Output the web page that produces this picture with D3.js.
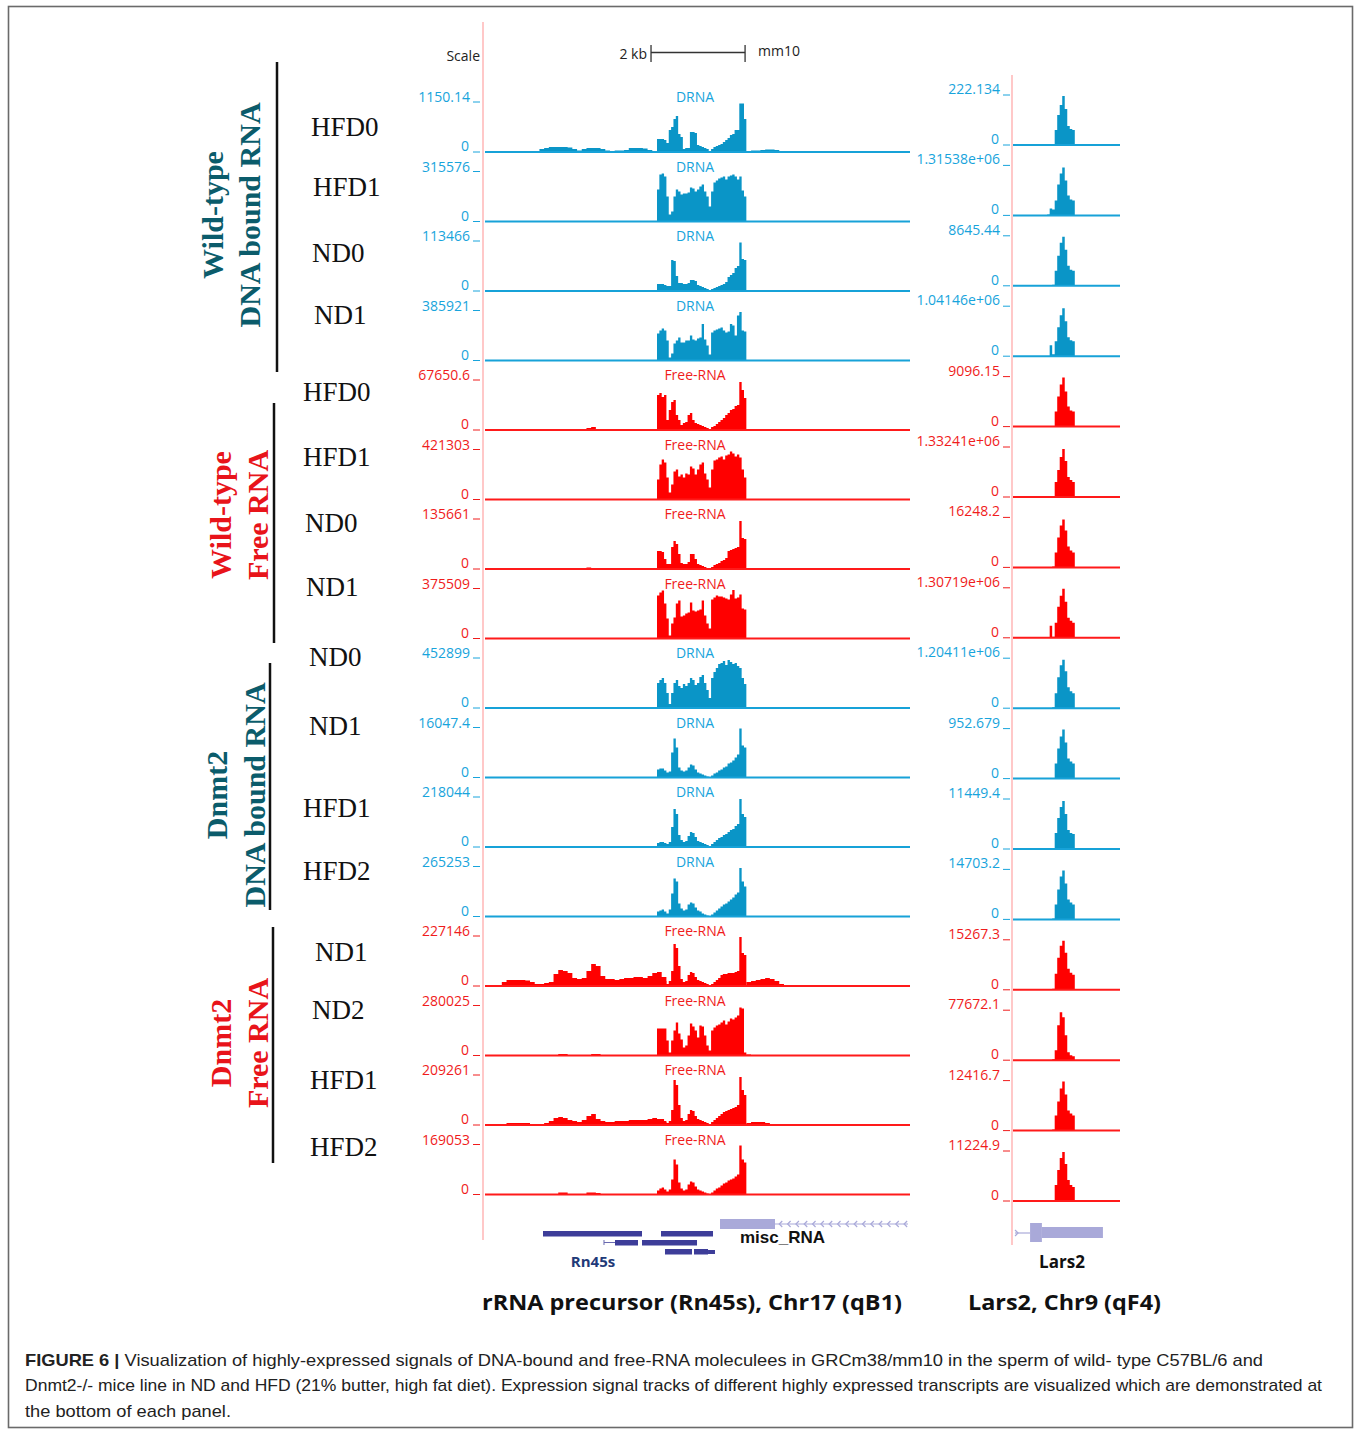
<!DOCTYPE html>
<html>
<head>
<meta charset="utf-8">
<script src="https://cdn.jsdelivr.net/npm/d3@7"></script>
<style>
body { margin: 0; background: #fff; }
</style>
</head>
<body>
<svg id="fig" width="1356" height="1430"></svg>
<script>
// ---- track data (heights as % of each track's own max) ----
var kinds = ["D","D","D","D","F","F","F","F","D","D","D","D","F","F","F","F"];
var samples = ["HFD0","HFD1","ND0","ND1","HFD0","HFD1","ND0","ND1","ND0","ND1","HFD1","HFD2","ND1","ND2","HFD1","HFD2"];
var sampleX = [311,313,312,314,303,303,305,306,309,309,303,303,315,312,310,310];
var sampleY = [127,187,253,315,392,457,523,587,657,726,808,871,952,1010,1080,1147];
var leftMax = ["1150.14","315576","113466","385921","67650.6","421303","135661","375509","452899","16047.4","218044","265253","227146","280025","209261","169053"];
var rightMax = ["222.134","1.31538e+06","8645.44","1.04146e+06","9096.15","1.33241e+06","16248.2","1.30719e+06","1.20411e+06","952.679","11449.4","14703.2","15267.3","77672.1","12416.7","11224.9"];

// Rn45s locus, 50 bp bins starting at 3700 bp
var core = [
  [26,26,26,24,18,44,50,66,72,36,30,6,8,8,40,40,38,14,12,10,8,6,2,6,10,12,14,16,20,24,28,34,36,44,44,97,97,66],
  [64,94,96,90,50,14,20,50,64,60,54,56,56,58,68,66,60,64,70,74,60,50,30,60,78,82,86,88,90,84,90,92,94,90,84,90,62,50],
  [14,14,14,12,10,10,62,60,30,16,16,14,14,16,22,22,20,12,10,8,6,4,1,4,6,8,10,12,14,18,28,32,36,46,50,97,64,62],
  [54,60,64,60,40,6,14,34,40,46,36,36,40,40,50,42,40,44,46,73,42,30,12,56,60,62,64,66,60,56,58,73,70,50,90,97,60,58],
  [70,74,66,70,20,40,56,60,30,20,10,14,16,30,34,20,14,12,10,8,6,4,2,6,8,12,16,20,24,30,34,40,42,48,50,96,80,64],
  [40,70,80,74,44,14,30,56,60,46,50,44,52,50,66,62,50,60,70,74,52,40,24,60,78,80,84,86,80,88,90,96,92,86,90,84,60,44],
  [36,36,34,20,10,10,44,56,50,30,12,10,10,14,30,30,20,10,8,6,4,2,0,4,8,10,12,16,18,22,36,38,40,42,44,96,62,60],
  [86,92,96,70,40,6,30,42,70,76,44,46,50,52,72,56,54,56,58,76,46,30,20,78,82,86,84,84,82,80,78,88,97,80,82,88,60,58],
  [50,56,60,50,30,8,30,50,56,44,40,48,44,50,60,56,46,50,62,66,50,36,20,60,72,80,88,90,94,86,96,92,88,90,84,80,60,48],
  [16,18,18,14,10,12,50,78,60,20,14,12,14,20,26,24,16,10,8,6,4,2,1,4,8,10,14,16,20,22,28,30,34,40,46,98,64,60],
  [8,10,10,8,6,10,40,76,66,24,14,10,12,22,30,28,20,12,10,8,6,4,2,6,10,14,18,20,24,26,30,34,36,42,46,96,66,60],
  [10,12,14,10,6,14,46,76,70,26,16,12,14,24,28,26,18,12,10,6,4,2,1,4,8,12,16,20,24,26,30,34,38,44,48,97,70,60],
  [10,12,12,10,4,10,30,84,76,40,14,8,10,22,28,26,18,12,10,8,6,4,2,4,8,12,16,22,24,24,26,26,26,28,30,98,66,62],
  [54,54,54,54,30,6,30,50,66,44,32,16,20,40,64,58,50,36,60,58,40,20,10,50,56,60,62,66,70,62,68,74,72,76,80,96,94,6],
  [10,12,12,8,4,8,30,90,80,40,14,8,10,22,30,28,18,12,10,8,6,4,2,6,10,14,18,22,26,28,30,32,34,36,40,96,70,60],
  [8,12,14,10,6,10,30,70,60,24,12,8,10,20,26,24,16,10,8,6,4,2,1,4,8,12,14,18,22,24,28,30,32,36,40,98,70,64]
];
// low background across the locus, 100 bp bins from 0 bp (core drawn over it)
var flank = [
  [0,0,0,0,1,2,0,0,0,1,1,2,6,8,10,10,10,10,9,6,3,6,8,8,8,6,3,2,3,3,4,8,8,8,7,4,2,3,3,3,3,0,0,0,0,0,0,0,0,0,0,0,0,0,0,0,0,3,3,4,5,5,4,2],
  [],
  [],
  [],
  [0,0,0,0,0,0,0,0,0,0,0,0,0,0,0,0,0,0,0,0,0,0,4,6,2],
  [],
  [0,0,0,0,0,0,0,0,0,0,0,0,0,0,0,0,0,0,0,0,0,2,3],
  [],
  [],
  [],
  [],
  [],
  [0,0,0,2,8,12,12,12,12,11,8,4,4,6,8,24,32,30,26,16,14,16,30,44,40,20,14,14,12,14,16,16,18,18,16,20,26,28,18,4,0,0,0,0,0,0,0,0,0,0,0,0,0,0,0,0,8,10,12,14,16,14,10,4],
  [0,0,0,0,0,0,0,0,0,0,0,0,0,0,0,0,3,3,0,0,0,0,0,3,3,0,0,0,0,0,0,0,0,0,0,0,0,0,0,0,0,0,0,0,0,0,0,0,0,0,0,0,0,0,0,0,2],
  [0,0,0,0,2,4,4,4,4,4,2,2,2,4,8,14,16,14,10,8,6,10,18,22,12,8,6,6,8,8,8,10,10,10,10,12,14,12,6,2,0,0,0,0,0,0,0,0,0,0,0,0,0,0,0,0,4,6,6,6,4,2],
  [0,0,0,0,0,0,0,0,0,0,0,0,0,0,0,0,4,4,0,0,0,0,4,4,3]
];
// Lars2 peak, bins from bin 14 of the Lars2 window
var lars = [
  [1,1,2,30,60,80,98,72,38,32,30],
  [2,14,12,30,62,84,96,70,40,32,30],
  [0,0,2,30,60,86,98,72,40,32,30],
  [0,22,4,30,58,82,96,70,38,32,30],
  [0,0,0,30,60,84,98,70,40,32,30],
  [0,2,2,30,54,80,96,72,40,34,30],
  [0,0,2,30,60,84,96,74,42,34,30],
  [0,24,2,30,62,84,98,72,40,34,30],
  [0,0,2,30,62,86,97,74,42,34,30],
  [0,0,1,30,60,84,98,72,40,34,30],
  [0,0,2,32,62,84,96,70,38,32,30],
  [0,0,2,30,60,86,98,72,40,34,30],
  [0,0,2,32,64,88,98,74,42,34,30],
  [0,0,2,20,70,96,86,50,16,10,8],
  [0,0,2,30,58,84,98,72,40,34,30],
  [0,0,2,32,62,86,98,74,42,32,28]
];

// gene models: [startBp, endBp, row]
var rn45sBlocks = [[1276,3381,0],[3785,4891,0],[2807,3296,1],[3381,4551,1],[3870,4444,2],[4487,4785,2]];
var miscBox = [5040,6209];
var miscLine = [6209,9037];

var coreStart = 3700, coreBin = 50, flankBin = 100;
var larsStart = 14;

var groups = [
  {l1:"Wild-type", l2:"DNA bound RNA", color:"#0b5c6b", x1:213, x2:250, y:215, lx:277, y0:62, y1:372},
  {l1:"Wild-type", l2:"Free RNA", color:"#e8141a", x1:221, x2:258, y:515, lx:274, y0:403, y1:643},
  {l1:"Dnmt2", l2:"DNA bound RNA", color:"#0b5c6b", x1:217, x2:255, y:795, lx:270, y0:663, y1:910},
  {l1:"Dnmt2", l2:"Free RNA", color:"#e8141a", x1:221, x2:258, y:1043, lx:273, y0:927, y1:1163}
];

var svg = d3.select("#fig");
var pal = {
  D: {fill:"#0a95c7", line:"#17a2d8", text:"#18a4dc", name:"DRNA"},
  F: {fill:"#ff0000", line:"#ff1a1a", text:"#f01c1c", name:"Free-RNA"}
};

// frame
svg.append("rect").attr("x", 8.5).attr("y", 6.5).attr("width", 1344).attr("height", 1421)
  .attr("fill", "none").attr("stroke", "#6a6a6a").attr("stroke-width", 1.6);

var x = d3.scaleLinear().domain([0, 9080]).range([483, 910]);
var xr = d3.scaleLinear().domain([0, 43]).range([1012, 1120]);

// pink position lines
svg.append("line").attr("x1", 483).attr("x2", 483).attr("y1", 22).attr("y2", 1240)
  .attr("stroke", "#ffb6b6").attr("stroke-width", 1.5);
svg.append("line").attr("x1", 1012).attr("x2", 1012).attr("y1", 75).attr("y2", 1245)
  .attr("stroke", "#ffb6b6").attr("stroke-width", 1.5);

// scale bar
var sc = svg.append("g").attr("font-family", "'Open Sans', sans-serif").attr("fill", "#222");
sc.append("text").attr("x", 480).attr("y", 61).attr("text-anchor", "end").attr("font-size", 14).text("Scale");
sc.append("text").attr("x", 647).attr("y", 59).attr("text-anchor", "end").attr("font-size", 14).text("2 kb");
sc.append("text").attr("x", 758).attr("y", 56).attr("font-size", 14).text("mm10");
var sb = [x(3573), x(5573)];
sc.append("line").attr("x1", sb[0]).attr("x2", sb[1]).attr("y1", 52.5).attr("y2", 52.5).attr("stroke", "#333").attr("stroke-width", 1.3);
sb.forEach(function(v) {
  sc.append("line").attr("x1", v).attr("x2", v).attr("y1", 45).attr("y2", 62).attr("stroke", "#333").attr("stroke-width", 1.3);
});

function stepArea(y) {
  return d3.area().curve(d3.curveStepAfter)
    .x(function(d) { return d.x; })
    .y0(y(0)).y1(function(d) { return y(d.v); });
}

for (var k = 0; k < 16; k++) {
  var p = pal[kinds[k]];
  var base = 152 + 69.5 * k;
  var y = d3.scaleLinear().domain([0, 100]).range([base, base - 50]);
  var g = svg.append("g");

  // flank background
  if (flank[k].length) {
    var fp = flank[k].map(function(v, i) { return {x: x(i * flankBin), v: v}; });
    fp.push({x: x(flank[k].length * flankBin), v: 0});
    g.append("path").attr("d", stepArea(y)(fp)).attr("fill", p.fill);
  }
  var cp = core[k].map(function(v, i) { return {x: x(coreStart + i * coreBin), v: v}; });
  cp.push({x: x(coreStart + core[k].length * coreBin), v: 0});
  g.append("path").attr("d", stepArea(y)(cp)).attr("fill", p.fill);

  g.append("line").attr("x1", 485).attr("x2", 910).attr("y1", base).attr("y2", base)
    .attr("stroke", p.line).attr("stroke-width", 2);

  var t = g.append("g").attr("font-family", "'Open Sans', sans-serif").attr("font-size", 14).attr("fill", p.text);
  t.append("text").attr("x", 470).attr("y", y(100)).attr("text-anchor", "end").text(leftMax[k]);
  t.append("text").attr("x", 469).attr("y", y(0) - 1).attr("text-anchor", "end").text("0");
  t.append("text").attr("x", 695).attr("y", y(100)).attr("text-anchor", "middle").text(p.name);
  [y(100), y(0)].forEach(function(v) {
    t.append("line").attr("x1", 473).attr("x2", 480).attr("y1", v).attr("y2", v).attr("stroke", p.text).attr("stroke-width", 1);
  });

  // Lars2 panel
  var rb = 145 + 70.4 * k;
  var yr = d3.scaleLinear().domain([0, 100]).range([rb, rb - 50]);
  var lp = lars[k].map(function(v, i) { return {x: xr(larsStart + i), v: v}; });
  lp.push({x: xr(larsStart + lars[k].length), v: 0});
  g.append("path").attr("d", stepArea(yr)(lp)).attr("fill", p.fill);
  g.append("line").attr("x1", 1013).attr("x2", 1120).attr("y1", rb).attr("y2", rb)
    .attr("stroke", p.line).attr("stroke-width", 2);
  t.append("text").attr("x", 1000).attr("y", yr(100) - 1).attr("text-anchor", "end").text(rightMax[k]);
  t.append("text").attr("x", 999).attr("y", yr(0) - 1).attr("text-anchor", "end").text("0");
  [yr(100), yr(0)].forEach(function(v) {
    t.append("line").attr("x1", 1003).attr("x2", 1010).attr("y1", v).attr("y2", v).attr("stroke", p.text).attr("stroke-width", 1);
  });

  // sample name
  svg.append("text").attr("x", sampleX[k]).attr("y", sampleY[k] + 9)
    .attr("font-family", "'Liberation Serif', 'Times New Roman', serif").attr("font-size", 27)
    .attr("fill", "#111").text(samples[k]);
}

// group labels and brackets
groups.forEach(function(gr) {
  svg.append("line").attr("x1", gr.lx).attr("x2", gr.lx).attr("y1", gr.y0).attr("y2", gr.y1)
    .attr("stroke", "#111").attr("stroke-width", 2.5);
  [[gr.l1, gr.x1], [gr.l2, gr.x2]].forEach(function(l) {
    svg.append("text").attr("transform", "translate(" + (l[1] + 10) + "," + gr.y + ") rotate(-90)")
      .attr("text-anchor", "middle").attr("font-family", "'Liberation Serif', 'Times New Roman', serif")
      .attr("font-weight", "bold").attr("font-size", 30).attr("fill", gr.color).text(l[0]);
  });
});

// Rn45s gene model
var rowY = [1231, 1240, 1249];
var gm = svg.append("g");
gm.selectAll("rect.rn").data(rn45sBlocks).enter().append("rect")
  .attr("x", function(d) { return x(d[0]); }).attr("width", function(d) { return x(d[1]) - x(d[0]); })
  .attr("y", function(d) { return rowY[d[2]]; }).attr("height", 5.5).attr("fill", "#3d3d99");
gm.append("rect").attr("x", x(4785)).attr("width", x(4933) - x(4785)).attr("y", 1250).attr("height", 4).attr("fill", "#3d3d99");
gm.append("line").attr("x1", x(2573)).attr("x2", x(2807)).attr("y1", 1242.5).attr("y2", 1242.5).attr("stroke", "#6a6ab0").attr("stroke-width", 1);
gm.append("line").attr("x1", x(2573)).attr("x2", x(2573)).attr("y1", 1240).attr("y2", 1245).attr("stroke", "#6a6ab0").attr("stroke-width", 1);

gm.append("rect").attr("x", x(miscBox[0])).attr("width", x(miscBox[1]) - x(miscBox[0]))
  .attr("y", 1219).attr("height", 10).attr("fill", "#a9a9d9");
gm.append("line").attr("x1", x(miscLine[0])).attr("x2", x(miscLine[1])).attr("y1", 1224).attr("y2", 1224)
  .attr("stroke", "#a9a9d9").attr("stroke-width", 1.2);
d3.range(6300, 9037, 177).forEach(function(b) {
  var ax = x(b);
  gm.append("path").attr("d", "M" + (ax + 3) + ",1221 L" + ax + ",1224 L" + (ax + 3) + ",1227")
    .attr("fill", "none").attr("stroke", "#a9a9d9").attr("stroke-width", 1.2);
});
gm.append("text").attr("x", 740).attr("y", 1243).attr("font-family", "'Liberation Sans', Arial, sans-serif")
  .attr("font-weight", "bold").attr("font-size", 17).attr("fill", "#111").text("misc_RNA");
gm.append("text").attr("x", 593).attr("y", 1267).attr("text-anchor", "middle").attr("font-family", "'Open Sans', sans-serif")
  .attr("font-weight", "bold").attr("font-size", 15).attr("fill", "#1f3a78").text("Rn45s");

// Lars2 gene model
gm.append("line").attr("x1", xr(1.2)).attr("x2", xr(7.2)).attr("y1", 1233).attr("y2", 1233).attr("stroke", "#a9a9d9").attr("stroke-width", 1.2);
gm.append("path").attr("d", "M" + (xr(2.4) - 3) + ",1230 L" + xr(2.4) + ",1233 L" + (xr(2.4) - 3) + ",1236")
  .attr("fill", "none").attr("stroke", "#a9a9d9").attr("stroke-width", 1.2);
gm.append("rect").attr("x", xr(7.2)).attr("width", xr(11.9) - xr(7.2)).attr("y", 1223).attr("height", 19).attr("fill", "#a9a9d9");
gm.append("rect").attr("x", xr(11.9)).attr("width", xr(36.2) - xr(11.9)).attr("y", 1227).attr("height", 11).attr("fill", "#a9a9d9");
gm.append("text").attr("x", 1062).attr("y", 1268).attr("text-anchor", "middle").attr("font-family", "'Open Sans', sans-serif")
  .attr("font-weight", "bold").attr("font-size", 17).attr("fill", "#111").text("Lars2");

// panel titles
svg.append("text").attr("x", 482).attr("y", 1310).attr("font-family", "'Open Sans', sans-serif")
  .attr("font-weight", "bold").attr("font-size", 22).attr("fill", "#111")
  .attr("textLength", 420).attr("lengthAdjust", "spacingAndGlyphs").text("rRNA precursor (Rn45s), Chr17 (qB1)");
svg.append("text").attr("x", 968).attr("y", 1310).attr("font-family", "'Open Sans', sans-serif")
  .attr("font-weight", "bold").attr("font-size", 22).attr("fill", "#111")
  .attr("textLength", 193).attr("lengthAdjust", "spacingAndGlyphs").text("Lars2, Chr9 (qF4)");

// caption
var cap = svg.append("g").attr("font-family", "'Liberation Sans', Arial, sans-serif").attr("font-size", 17).attr("fill", "#222");
var c1 = cap.append("text").attr("x", 25).attr("y", 1366).attr("textLength", 1238).attr("lengthAdjust", "spacingAndGlyphs");
c1.append("tspan").attr("font-weight", "bold").text("FIGURE 6 |");
c1.append("tspan").text(" Visualization of highly-expressed signals of DNA-bound and free-RNA moleculees in GRCm38/mm10 in the sperm of wild- type C57BL/6 and");
cap.append("text").attr("x", 25).attr("y", 1391).attr("textLength", 1297).attr("lengthAdjust", "spacingAndGlyphs")
  .text("Dnmt2-/- mice line in ND and HFD (21% butter, high fat diet). Expression signal tracks of different highly expressed transcripts are visualized which are demonstrated at");
cap.append("text").attr("x", 25).attr("y", 1417).attr("textLength", 206).attr("lengthAdjust", "spacingAndGlyphs").text("the bottom of each panel.");
</script>
</body>
</html>
